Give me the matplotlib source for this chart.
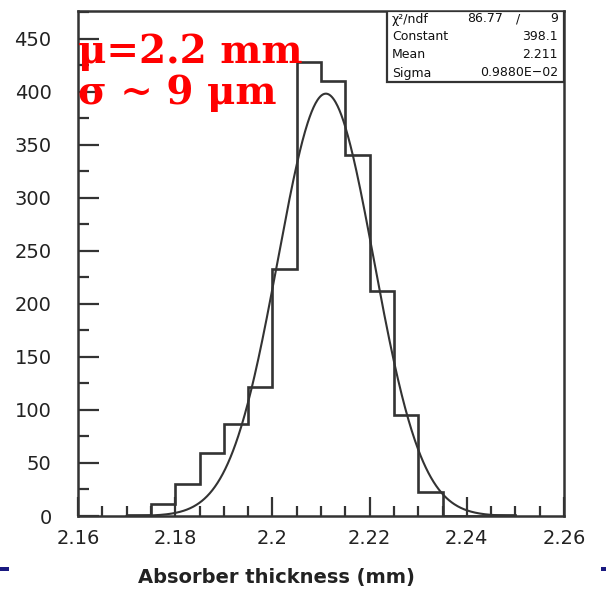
import numpy as np
import matplotlib
matplotlib.use("Agg")
import matplotlib.pyplot as plt
from matplotlib.patches import Rectangle
from matplotlib.ticker import MultipleLocator

# Histogram of absorber thickness (bins of 0.005 mm)
bin_edges = [2.170, 2.175, 2.180, 2.185, 2.190, 2.195, 2.200, 2.205, 2.210,
             2.215, 2.220, 2.225, 2.230, 2.235, 2.240, 2.245, 2.250]
counts = [1, 11, 30, 59, 87, 122, 233, 428, 410, 340, 212, 95, 23, 0, 0, 1]

# Gaussian fit results
fit_constant = 398.1
fit_mean = 2.211
fit_sigma = 0.9880e-02
chi2, ndf = 86.77, 9

stat_labels = ["\u03c7\u00b2/ndf", "Constant", "Mean", "Sigma"]
stat_values = ["", "398.1", "2.211", "0.9880E\u221202"]

x_ticks = [2.16, 2.18, 2.20, 2.22, 2.24, 2.26]
x_tick_labels = ["2.16", "2.18", "2.2", "2.22", "2.24", "2.26"]
y_ticks = [0, 50, 100, 150, 200, 250, 300, 350, 400, 450]

W, H = 606, 592
fig = plt.figure(figsize=(W / 100, H / 100), dpi=100)
fig.patch.set_facecolor("white")


def fx(px):
    return px / W


def fy(py):
    return 1 - py / H


ax_l, ax_r, ax_t, ax_b = 78, 564, 11, 516
ax = fig.add_axes([fx(ax_l), fy(ax_b), fx(ax_r - ax_l), (ax_b - ax_t) / H])

ink = "#333333"
ax.stairs(counts, bin_edges, color=ink, lw=1.9)

xs = np.linspace(bin_edges[0], bin_edges[-1], 600)
ax.plot(xs, fit_constant * np.exp(-0.5 * ((xs - fit_mean) / fit_sigma) ** 2),
        color=ink, lw=1.5)

ax.set_xlim(2.16, 2.26)
ax.set_ylim(0, 476)
ax.set_xticks(x_ticks)
ax.set_xticklabels(x_tick_labels)
ax.set_yticks(y_ticks)
ax.xaxis.set_minor_locator(MultipleLocator(0.005))
ax.yaxis.set_minor_locator(MultipleLocator(25))

for s in ax.spines.values():
    s.set_color(ink)
    s.set_linewidth(1.8)

ax.tick_params(axis="both", which="both", direction="in", color=ink,
               top=False, right=False)
ax.tick_params(axis="x", which="major", length=14, width=1.6, pad=9,
               labelsize=14, labelcolor="#222222")
ax.tick_params(axis="x", which="minor", length=7, width=1.6)
ax.tick_params(axis="y", which="major", length=15, width=1.6, pad=19,
               labelsize=14, labelcolor="#222222")
ax.tick_params(axis="y", which="minor", length=8, width=1.6)

# Fit statistics box in the upper right corner
bx0, bx1, by0, by1 = 387, 564, 11, 82
ax.add_artist(Rectangle((fx(bx0), fy(by1)), fx(bx1 - bx0), (by1 - by0) / H,
                        transform=fig.transFigure, fill=True, facecolor="white",
                        edgecolor=ink, lw=1.6, zorder=5))
stat_kw = dict(fontsize=9, color="#111111", va="center", zorder=6)
row_y = [19, 37, 55, 73]
for lab, val, ry in zip(stat_labels, stat_values, row_y):
    fig.text(fx(392), fy(ry), lab, ha="left", **stat_kw)
    if val:
        fig.text(fx(558), fy(ry), val, ha="right", **stat_kw)
fig.text(fx(503), fy(row_y[0]), f"{chi2:.2f}", ha="right", **stat_kw)
fig.text(fx(518), fy(row_y[0]), "/", ha="center", **stat_kw)
fig.text(fx(558), fy(row_y[0]), f"{ndf}", ha="right", **stat_kw)

# Red annotation with the mean and resolution
fig.text(fx(78), fy(63), "\u03bc=2.2 mm", fontsize=28, fontweight="bold",
         family="DejaVu Serif", color="#ff0000", va="baseline", ha="left",
         zorder=7)
fig.text(fx(78), fy(104), "\u03c3 ~ 9 \u03bcm", fontsize=28, fontweight="bold",
         family="DejaVu Serif", color="#ff0000", va="baseline", ha="left",
         zorder=7)

fig.text(fx(276), fy(577), "Absorber thickness (mm)", fontsize=14,
         fontweight="bold", color="#222222", ha="center", va="center")

# Slide border marks
navy = "#1a1a80"
fig.patches.append(Rectangle((0, fy(571)), fx(9), 4 / H, transform=fig.transFigure,
                             facecolor=navy, edgecolor="none"))
fig.patches.append(Rectangle((fx(601), fy(571)), fx(5), 4 / H,
                             transform=fig.transFigure, facecolor=navy,
                             edgecolor="none"))

fig.savefig("out.png", dpi=100, facecolor="white")
